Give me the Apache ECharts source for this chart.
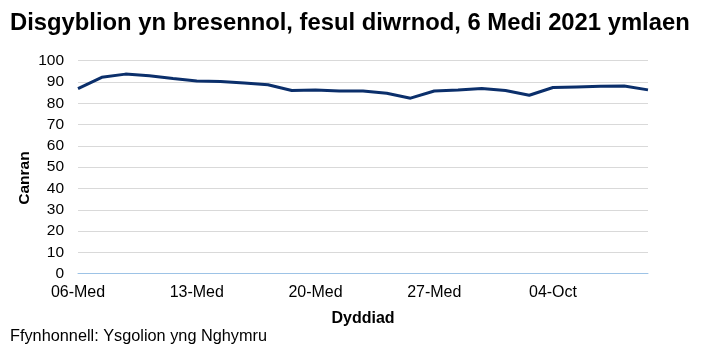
<!DOCTYPE html>
<html>
<head>
<meta charset="utf-8">
<script src="https://cdn.jsdelivr.net/npm/echarts@6/dist/echarts.min.js"></script>
<style>
html,body{margin:0;padding:0;background:#fff;}
#c{width:704px;height:355px;}
</style>
</head>
<body>
<div id="c"></div>
<script>
const categories = ['06-Med','07-Med','08-Med','09-Med','10-Med',
  '13-Med','14-Med','15-Med','16-Med','17-Med',
  '20-Med','21-Med','22-Med','23-Med','24-Med',
  '27-Med','28-Med','29-Med','30-Med','01-Oct',
  '04-Oct','05-Oct','06-Oct','07-Oct','08-Oct'];
const attendance = [86.9,92.2,93.7,92.9,91.6,
  90.5,90.2,89.5,88.7,86.0,
  86.3,85.8,85.8,84.7,82.4,
  85.8,86.2,86.9,86.0,83.8,
  87.4,87.7,88.0,88.1,86.3];
const yTicks = {min:0, max:100, interval:10};
const titleText = 'Disgyblion yn bresennol, fesul diwrnod, 6 Medi 2021 ymlaen';
const sourceText = 'Ffynhonnell: Ysgolion yng Nghymru';
const yName = 'Canran';
const xName = 'Dyddiad';

const font = 'Liberation Sans, Arial, sans-serif';
const chart = echarts.init(document.getElementById('c'), null, {renderer:'canvas'});
chart.setOption({
  animation:false,
  backgroundColor:'#fff',
  title:[
    {text:titleText, left:10, top:11, padding:0, textStyle:{fontFamily:font, fontSize:23.8, fontWeight:'bold', color:'#000'}},
    {text:sourceText, left:10, top:329, padding:0, textStyle:{fontFamily:font, fontSize:16.3, fontWeight:'normal', color:'#000'}}
  ],
  graphic:[
    {type:'text', x:25, y:178, rotation:Math.PI/2,
     style:{text:yName, textAlign:'center', textVerticalAlign:'middle',
            font:'bold 15.5px Liberation Sans, Arial, sans-serif', fill:'#000'}}
  ],
  grid:{left:78, right:56, top:60.7, bottom:81.3, containLabel:false},
  xAxis:{
    type:'category', data:categories, boundaryGap:false,
    name:xName, nameLocation:'middle', nameGap:37,
    nameTextStyle:{fontFamily:font, fontSize:16, fontWeight:'bold', color:'#000'},
    axisLine:{show:true, lineStyle:{color:'#9dc3e6', width:1}},
    axisTick:{show:false},
    axisLabel:{interval:4, fontFamily:font, fontSize:16, color:'#000', margin:11},
    splitLine:{show:false}
  },
  yAxis:{
    type:'value', min:yTicks.min, max:yTicks.max, interval:yTicks.interval,
    axisLine:{show:false}, axisTick:{show:false},
    axisLabel:{fontFamily:font, fontSize:15.5, color:'#000', margin:14},
    splitLine:{lineStyle:{color:'#d9d9d9', width:1}}
  },
  series:[{
    type:'line', data:attendance, symbol:'none', smooth:false,
    lineStyle:{color:'#0b2f6b', width:3}
  }]
});
</script>
</body>
</html>
